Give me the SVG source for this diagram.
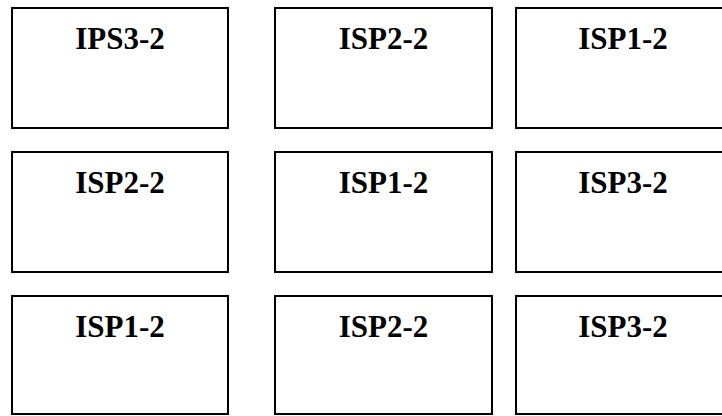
<svg xmlns="http://www.w3.org/2000/svg" width="722" height="416" viewBox="0 0 722 416">
<style>
.box{fill:#fff;stroke:#000;stroke-width:2}
.lbl{font-family:"Liberation Serif","Times New Roman",serif;font-weight:bold;font-size:31px;text-anchor:middle;fill:#000}
</style>
<rect width="722" height="416" fill="#fff"/>
<g id="n11"><rect class="box" x="12" y="8" width="216" height="120"/><text class="lbl" x="120" y="49">IPS3-2</text></g>
<g id="n12"><rect class="box" x="275" y="8" width="217" height="120"/><text class="lbl" x="383.5" y="49">ISP2-2</text></g>
<g id="n13"><rect class="box" x="516" y="8" width="216" height="120"/><text class="lbl" x="623" y="49">ISP1-2</text></g>
<g id="n21"><rect class="box" x="12" y="152" width="216" height="120"/><text class="lbl" x="120" y="193">ISP2-2</text></g>
<g id="n22"><rect class="box" x="275" y="152" width="217" height="120"/><text class="lbl" x="383.5" y="193">ISP1-2</text></g>
<g id="n23"><rect class="box" x="516" y="152" width="216" height="120"/><text class="lbl" x="623" y="193">ISP3-2</text></g>
<g id="n31"><rect class="box" x="12" y="296" width="216" height="118"/><text class="lbl" x="120" y="337">ISP1-2</text></g>
<g id="n32"><rect class="box" x="275" y="296" width="217" height="118"/><text class="lbl" x="383.5" y="337">ISP2-2</text></g>
<g id="n33"><rect class="box" x="516" y="296" width="216" height="118"/><text class="lbl" x="623" y="337">ISP3-2</text></g>
<g id="connectors"/>
</svg>
